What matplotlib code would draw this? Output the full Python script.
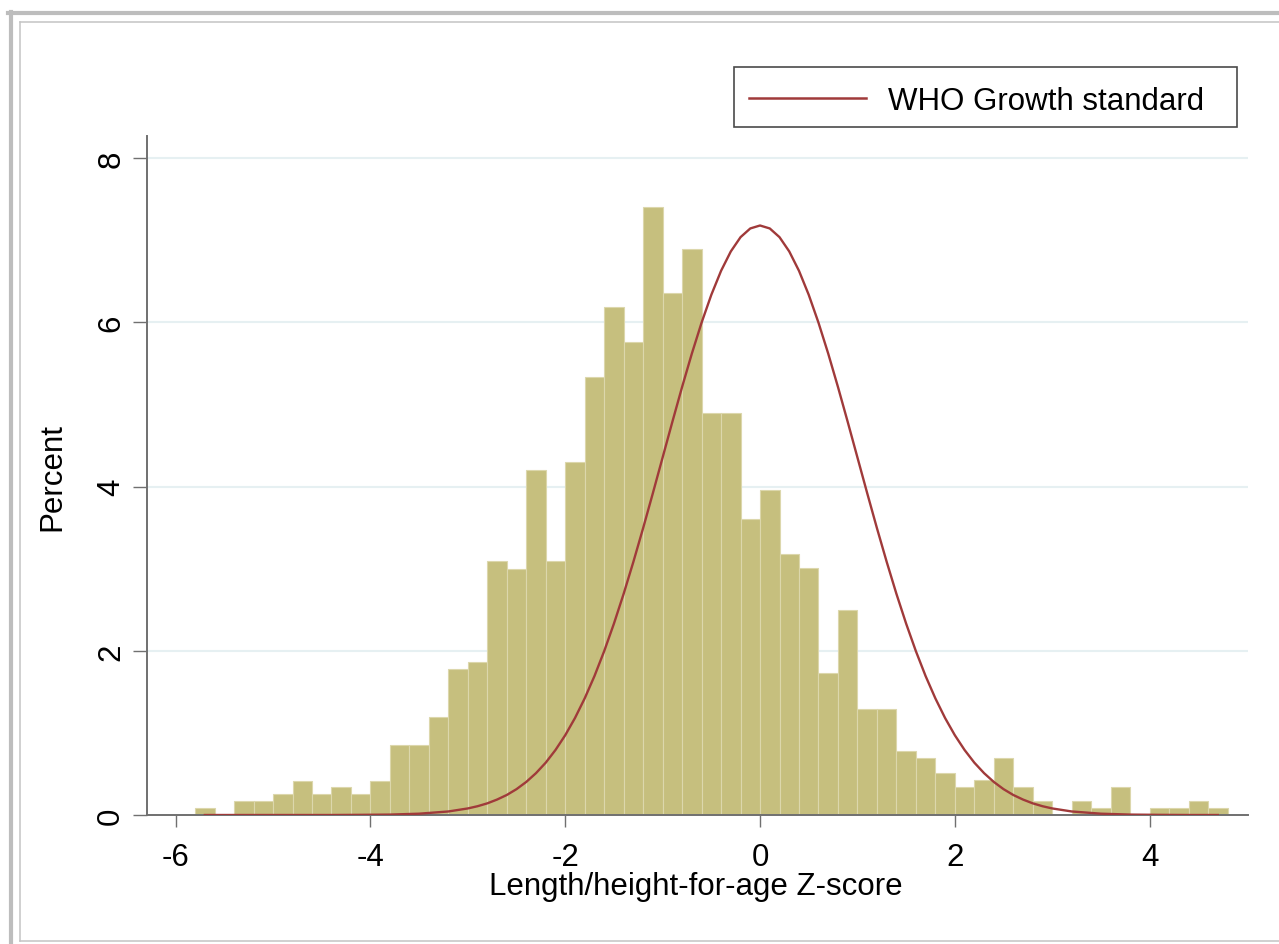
import matplotlib
matplotlib.use("Agg")
import matplotlib.pyplot as plt
from matplotlib.lines import Line2D
from matplotlib.patches import Rectangle

# histogram: bins of width 0.2 starting at -5.8, heights in percent
bin_start = -5.8
bin_width = 0.2
percent = [0.085, 0, 0.17, 0.17, 0.25, 0.42, 0.25, 0.34, 0.25, 0.42,
           0.85, 0.85, 1.19, 1.78, 1.86, 3.09, 3.0, 4.2, 3.09, 4.3,
           5.33, 6.19, 5.76, 7.41, 6.36, 6.89, 4.9, 4.9, 3.6, 3.96,
           3.18, 3.01, 1.73, 2.5, 1.29, 1.29, 0.78, 0.69, 0.51, 0.34,
           0.43, 0.69, 0.34, 0.17, 0, 0.17, 0.085, 0.34, 0, 0.085,
           0.085, 0.17, 0.085]

# WHO growth standard curve
who_x = [-5.7, -5.2, -4.7, -4.4, -4.1, -3.8, -3.5, -3.2, -3.0, -2.9,
         -2.8, -2.7, -2.6, -2.5, -2.4, -2.3, -2.2, -2.1, -2.0, -1.9,
         -1.8, -1.7, -1.6, -1.5, -1.4, -1.3, -1.2, -1.1, -1.0, -0.9,
         -0.8, -0.7, -0.6, -0.5, -0.4, -0.3, -0.2, -0.1, 0.0, 0.1,
         0.2, 0.3, 0.4, 0.5, 0.6, 0.7, 0.8, 0.9, 1.0, 1.1,
         1.2, 1.3, 1.4, 1.5, 1.6, 1.7, 1.8, 1.9, 2.0, 2.1,
         2.2, 2.3, 2.4, 2.5, 2.6, 2.7, 2.8, 2.9, 3.0, 3.2,
         3.5, 3.8, 4.1, 4.4, 4.7]
who_y = [0.0, 0.0, 0.0, 0.0, 0.002, 0.005, 0.016, 0.043, 0.080, 0.107,
         0.142, 0.188, 0.244, 0.315, 0.403, 0.510, 0.638, 0.792, 0.972, 1.181,
         1.421, 1.692, 1.996, 2.331, 2.695, 3.085, 3.495, 3.921, 4.355, 4.789,
         5.214, 5.620, 5.997, 6.336, 6.628, 6.864, 7.038, 7.144, 7.18, 7.144,
         7.038, 6.864, 6.628, 6.336, 5.997, 5.620, 5.214, 4.789, 4.355, 3.921,
         3.495, 3.085, 2.695, 2.331, 1.996, 1.692, 1.421, 1.181, 0.972, 0.792,
         0.638, 0.510, 0.403, 0.315, 0.244, 0.188, 0.142, 0.107, 0.080, 0.043,
         0.016, 0.005, 0.002, 0.0, 0.0]

x_ticks = [-6, -4, -2, 0, 2, 4]
y_ticks = [0, 2, 4, 6, 8]

W, H = 1279, 945
plt.rcParams['font.family'] = ['Liberation Sans', 'DejaVu Sans']
FS = 22.5
axis_col = '#707070'
bar_col = '#C6BF7E'
curve_col = '#A03A3A'

fig = plt.figure(figsize=(W / 100, H / 100), dpi=100)
fig.patch.set_facecolor('white')

def fx(px):
    return px / W

def fy(py):
    return 1 - py / H

ax = fig.add_axes([fx(147), fy(816), fx(1248) - fx(147), fy(137) - fy(816)])

lefts = [bin_start + i * bin_width for i in range(len(percent))]
ax.bar(lefts, percent, width=bin_width, align='edge', color=bar_col,
       edgecolor='#DCD7AC', linewidth=0.8, zorder=2)
ax.plot(who_x, who_y, color=curve_col, linewidth=1.7, zorder=3,
        solid_joinstyle='round')

ax.set_xlim(-6.294, 5.01)
ax.set_ylim(0, 8.27)
ax.set_xticks(x_ticks)
ax.set_yticks(y_ticks)
ax.set_xticklabels([str(t) for t in x_ticks])
ax.set_yticklabels([str(t) for t in y_ticks], rotation=90, va='center')

for s in ['top', 'right']:
    ax.spines[s].set_visible(False)
for s in ['left', 'bottom']:
    ax.spines[s].set_color(axis_col)
    ax.spines[s].set_linewidth(1.4)

ax.tick_params(axis='x', direction='out', length=8.6, width=1.0,
               color=axis_col, labelsize=FS, pad=11)
ax.tick_params(axis='y', direction='out', length=10, width=1.0,
               color=axis_col, labelsize=FS, pad=5)

for yv in y_ticks[1:]:
    ax.axhline(yv, color='#E6F0F2', linewidth=1.5, zorder=0)
ax.set_axisbelow(True)

fig.text(fx(696), fy(895), 'Length/height-for-age Z-score', fontsize=FS,
         ha='center', va='baseline')
fig.text(fx(52), fy(477), 'Percent', fontsize=FS, rotation=90,
         ha='center', va='center')

# legend box drawn above the plot region
fig.add_artist(Rectangle((fx(734), fy(128)), fx(1237) - fx(734), fy(68) - fy(128),
                         transform=fig.transFigure, facecolor='white',
                         edgecolor='#4a4a4a', linewidth=1.2))
fig.add_artist(Line2D([fx(749), fx(866)], [fy(99), fy(99)],
                      transform=fig.transFigure, color=curve_col, linewidth=1.8))
fig.text(fx(888), fy(99), 'WHO Growth standard', fontsize=FS,
         ha='left', va='center_baseline')

# window frame lines
frame = '#BDBDBD'
fig.add_artist(Line2D([fx(8), fx(1279)], [fy(14), fy(14)], transform=fig.transFigure,
                      color=frame, linewidth=3))
fig.add_artist(Line2D([fx(11), fx(11)], [fy(13), fy(945)], transform=fig.transFigure,
                      color=frame, linewidth=3))
inner = '#C4C4C4'
fig.add_artist(Line2D([fx(20), fx(1279)], [fy(23), fy(23)], transform=fig.transFigure,
                      color=inner, linewidth=1.1))
fig.add_artist(Line2D([fx(20), fx(20)], [fy(23), fy(942)], transform=fig.transFigure,
                      color=inner, linewidth=1.1))
fig.add_artist(Line2D([fx(20), fx(1279)], [fy(942), fy(942)], transform=fig.transFigure,
                      color=inner, linewidth=1.1))

fig.savefig('out.png', dpi=100)
